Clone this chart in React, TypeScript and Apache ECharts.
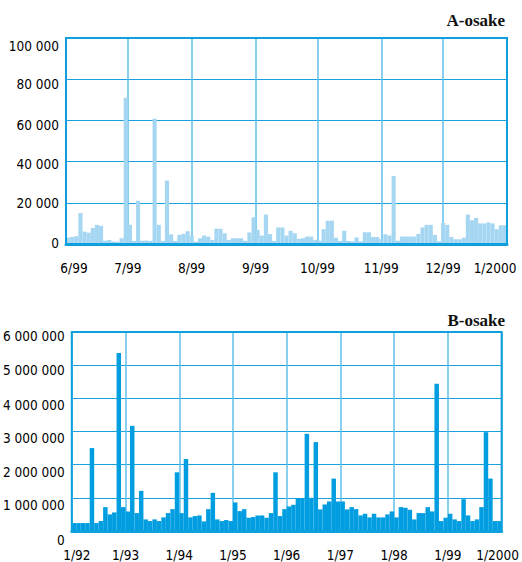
import React, { useEffect, useRef } from 'react';
import * as echarts from 'echarts';

// ---------- data ----------
const titleA = 'A-osake';
const titleB = 'B-osake';

// Chart A: June 1999 .. December 1999, one bar per two-day period
const monthLengthsA = [30, 31, 31, 30, 31, 30, 31];
const monthLabelsA = ['6/99', '7/99', '8/99', '9/99', '10/99', '11/99', '12/99', '1/2000'];
const valuesA = [
  3100, 3400, 3800, 15000, 6000, 5500, 7800, 9300, 8800, 1600,
  2000, 1200, 1100, 2800, 71000, 9300, 1500, 21000, 1600, 1700,
  1500, 60800, 9300, 1500, 30800, 4700, 1500, 4400, 4900, 6200,
  4100, 1100, 2800, 4100, 3600, 2000, 7400, 7400, 5200, 2000,
  2800, 2800, 2800, 1600, 5600, 13000, 6900, 4100, 14300, 4800,
  1500, 8000, 8000, 4100, 6400, 5200, 2500, 2800, 3600, 3600,
  2000, 1600, 7200, 11300, 11300, 3100, 1500, 6400, 1500, 1300,
  3200, 1300, 5700, 5700, 3400, 3400, 2400, 4700, 4100, 33000,
  1600, 3600, 3600, 3600, 3600, 4900, 8000, 9300, 9300, 4400,
  1300, 10200, 9300, 3400, 2300, 2300, 3100, 14300, 11500, 12700,
  10000, 10000, 10500, 10000, 7200, 9100, 9100,
];
const yTicksA = [0, 20000, 40000, 60000, 80000, 100000];

// Chart B: monthly, January 1992 .. December 1999
const yearLabelsB = ['1/92', '1/93', '1/94', '1/95', '1/96', '1/97', '1/98', '1/99', '1/2000'];
const valuesB = [
  // 1992
  240000, 240000, 240000, 240000, 2500000, 240000, 300000, 720000, 500000, 560000, 5370000, 720000,
  // 1993
  590000, 3170000, 540000, 1210000, 350000, 300000, 350000, 300000, 410000, 540000, 660000, 1770000,
  // 1994
  540000, 2170000, 410000, 450000, 470000, 290000, 660000, 1150000, 350000, 300000, 330000, 300000,
  // 1995
  860000, 600000, 660000, 400000, 420000, 470000, 470000, 400000, 540000, 1770000, 450000, 660000,
  // 1996
  740000, 790000, 990000, 990000, 2930000, 1000000, 2680000, 650000, 800000, 890000, 1580000, 890000,
  // 1997
  890000, 650000, 720000, 660000, 470000, 520000, 410000, 520000, 410000, 410000, 500000, 590000,
  // 1998
  410000, 720000, 700000, 640000, 350000, 540000, 540000, 720000, 590000, 4440000, 300000, 400000,
  // 1999
  520000, 350000, 300000, 960000, 470000, 300000, 350000, 720000, 2980000, 1580000, 300000, 300000,
];
const yTicksB = [0, 1000000, 2000000, 3000000, 4000000, 5000000, 6000000];

// ---------- styles ----------
const AXIS_FONT = '"DejaVu Sans Condensed", "Liberation Sans Narrow", "Arial Narrow", sans-serif';
const TITLE_FONT = '"Liberation Serif", "Times New Roman", serif';
const TEXT_COLOR = '#000000';
const BORDER_BLUE = '#0f9fdc';
const HLINE_BLUE = '#1ba1dd';
const VLINE_BLUE = '#5fc0ec';
const BAR_A = '#a6d7f2';
const BAR_B = '#009ee0';
// vertical nudges (px, + = down) of the y tick labels, per tick index
const yLabelNudgeA = [-1, 0.5, 2, 4.5, 5, 7.5];
const yLabelNudgeB = [8.5, 7.5, 7, 6.5, 6.3, 5, 3.7];

const fmtSpace = (v: number) => String(Math.round(v)).replace(/\B(?=(\d{3})+(?!\d))/g, ' ');

const labelFont = { fontFamily: AXIS_FONT, fontSize: 13.5, color: TEXT_COLOR };

function nudgeRich(nudges: number[]) {
  const rich: Record<string, any> = {};
  nudges.forEach((d, i) => {
    rich['o' + i] = {
      ...labelFont,
      padding: d >= 0 ? [2 * d, 0, 0, 0] : [0, 0, -2 * d, 0],
    };
  });
  return rich;
}

export default function App() {
  const ref = useRef<HTMLDivElement>(null);

  useEffect(() => {
    if (!ref.current) return;
    const chart = echarts.init(ref.current, undefined, { renderer: 'svg' });

    const monthStartsA: number[] = [0];
    monthLengthsA.forEach((n) => monthStartsA.push(monthStartsA[monthStartsA.length - 1] + n));
    const spanA = monthStartsA[monthStartsA.length - 1];
    const spanB = valuesB.length;

    const option: any = {
      animation: false,
      backgroundColor: '#ffffff',
      title: [
        {
          text: titleA,
          right: 17,
          top: 12,
          padding: 0,
          textStyle: { fontFamily: TITLE_FONT, fontWeight: 'bold', fontSize: 17, color: '#111' },
        },
        {
          text: titleB,
          right: 17,
          top: 312,
          padding: 0,
          textStyle: { fontFamily: TITLE_FONT, fontWeight: 'bold', fontSize: 17, color: '#111' },
        },
      ],
      grid: [
        { left: 66, top: 38, width: 441, height: 206, show: true, z: 10, borderColor: BORDER_BLUE, borderWidth: 2, backgroundColor: 'transparent' },
        { left: 66, top: 332, width: 437, height: 203, show: true, z: 10, borderColor: BORDER_BLUE, borderWidth: 2, backgroundColor: 'transparent' },
      ],
      xAxis: [
        {
          gridIndex: 0,
          type: 'value',
          min: 0,
          max: spanA,
          axisLine: { show: true, lineStyle: { color: BORDER_BLUE, width: 3 } },
          axisTick: { show: false, customValues: monthStartsA },
          splitLine: { show: true, lineStyle: { color: VLINE_BLUE, width: 1.5 } },
          axisLabel: {
            customValues: monthStartsA,
            margin: 17,
            ...labelFont,
            formatter: (v: number) => {
              const i = monthStartsA.indexOf(v);
              const t = monthLabelsA[i] ?? '';
              if (i === 0) return `{first|${t}}`;
              if (i === monthLabelsA.length - 1) return `{last|${t}}`;
              return t;
            },
            rich: {
              first: { ...labelFont, padding: [0, 0, 0, 16] },
              last: { ...labelFont, padding: [0, 24, 0, 0] },
            },
          },
        },
        {
          gridIndex: 1,
          type: 'value',
          min: 0,
          max: spanB,
          interval: 12,
          axisLine: { show: true, lineStyle: { color: BORDER_BLUE, width: 3 } },
          axisTick: { show: false },
          splitLine: { show: true, lineStyle: { color: VLINE_BLUE, width: 1.5 } },
          axisLabel: {
            margin: 17,
            ...labelFont,
            formatter: (v: number) => {
              const i = Math.round(v / 12);
              const t = yearLabelsB[i] ?? '';
              if (i === 0) return `{first|${t}}`;
              if (i === yearLabelsB.length - 1) return `{last|${t}}`;
              return t;
            },
            rich: {
              first: { ...labelFont, padding: [0, 0, 0, 10] },
              last: { ...labelFont, padding: [0, 8, 0, 0] },
            },
          },
        },
      ],
      yAxis: [
        {
          gridIndex: 0,
          type: 'value',
          min: yTicksA[0],
          max: yTicksA[yTicksA.length - 1],
          interval: yTicksA[1] - yTicksA[0],
          axisLine: { show: false },
          axisTick: { show: false },
          splitLine: { show: true, lineStyle: { color: HLINE_BLUE, width: 1 } },
          axisLabel: {
            margin: 7,
            ...labelFont,
            formatter: (v: number) => `{o${yTicksA.indexOf(v)}|${fmtSpace(v)}}`,
            rich: nudgeRich(yLabelNudgeA),
          },
        },
        {
          gridIndex: 1,
          type: 'value',
          min: yTicksB[0],
          max: yTicksB[yTicksB.length - 1],
          interval: yTicksB[1] - yTicksB[0],
          axisLine: { show: false },
          axisTick: { show: false },
          splitLine: { show: true, lineStyle: { color: HLINE_BLUE, width: 1 } },
          axisLabel: {
            margin: 7,
            ...labelFont,
            formatter: (v: number) => `{o${yTicksB.indexOf(v)}|${fmtSpace(v)}}`,
            rich: nudgeRich(yLabelNudgeB),
          },
        },
      ],
      series: [
        {
          type: 'bar',
          xAxisIndex: 0,
          yAxisIndex: 0,
          barWidth: '100%',
          silent: true,
          itemStyle: { color: BAR_A },
          data: valuesA.map((v, i) => [2 * i + 1, v]),
        },
        {
          type: 'bar',
          xAxisIndex: 1,
          yAxisIndex: 1,
          barWidth: '100%',
          silent: true,
          itemStyle: { color: BAR_B },
          data: valuesB.map((v, i) => [i + 0.5, v]),
        },
      ],
    };

    chart.setOption(option);
    return () => chart.dispose();
  }, []);

  return (
    <div
      ref={ref}
      style={{ position: 'absolute', left: 0, top: 0, width: 522, height: 562, background: '#fff' }}
    />
  );
}
